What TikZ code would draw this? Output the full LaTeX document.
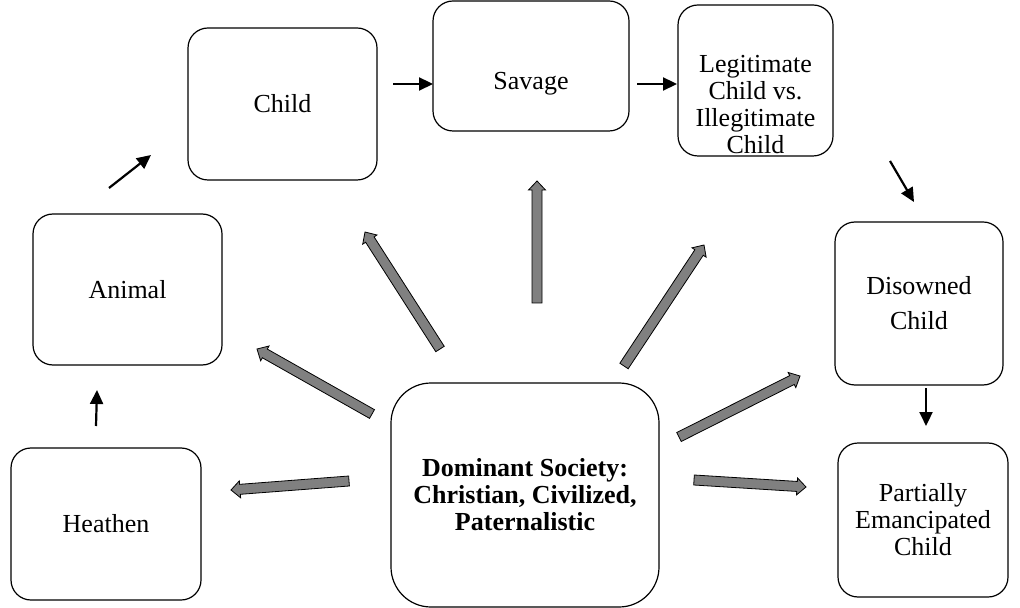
\documentclass[tikz,border=0pt]{standalone}
\usepackage{fontspec}
\setmainfont{Liberation Serif}
\usetikzlibrary{calc,arrows.meta}
\definecolor{blockgray}{HTML}{808080}
\tikzset{
  box/.style={draw=black, line width=0.6pt, rounded corners=10pt, align=center, inner sep=2pt,
    font=\fontsize{13}{13.5}\selectfont},
  bigBox/.style={box, rounded corners=20pt, font=\fontsize{13}{13.5}\selectfont\bfseries},
  boxLbl/.style={align=center, inner sep=0pt, font=\fontsize{13}{13.5}\selectfont},
  stepArrow/.style={draw=black, line width=1.1pt, -{Triangle[length=7pt,width=6.5pt]}},
  blockArrow/.style={fill=blockgray, draw=black, line width=0.4pt, line join=miter},
}
\newcommand{\grayArrow}[2]{%
  \coordinate (gaNeck) at ($(#2)!4.5pt!(#1)$);
  \filldraw[blockArrow] ($(#1)!2.5pt!90:(#2)$) -- ($(gaNeck)!2.5pt!-90:(#1)$)
    -- ($(gaNeck)!4.25pt!-90:(#1)$) -- (#2) -- ($(gaNeck)!4.25pt!90:(#1)$)
    -- ($(gaNeck)!2.5pt!90:(#1)$) -- ($(#1)!2.5pt!-90:(#2)$) -- cycle;
}

\begin{document}
\begin{tikzpicture}[x=0.5pt, y=-0.5pt]
  \useasboundingbox (0,0) rectangle (1020,608);

  % boxes round the centre
  \node[box, minimum width=95pt, minimum height=76pt]   (heathen)  at (106,524)   {Heathen};
  \node[box, minimum width=94.5pt, minimum height=75.5pt] (animal) at (127.5,289.5) {Animal};
  \node[box, minimum width=94.5pt, minimum height=76pt]  (child)    at (282.5,104) {Child};
  \node[box, minimum width=98pt, minimum height=65pt]    (savage)   at (531,66)    {};
  \node[boxLbl] (savageTxt) at (531,84) {Savage};
  \node[box, minimum width=77.5pt, minimum height=75.5pt] (legit)   at (755.5,80.5) {};
  \node[boxLbl] (legitTxt) at (755.5,105) {Legitimate\\Child vs.\\Illegitimate\\Child};
  \node[box, minimum width=84pt, minimum height=81.5pt]  (disowned) at (919,303.5) {Disowned\\[4pt]Child};
  \node[box, minimum width=85pt, minimum height=77pt]    (partial)  at (923,520)   {Partially\\Emancipated\\Child};
  \node[bigBox, minimum width=134pt, minimum height=112pt] (dominant) at (525,495)
    {Dominant Society:\\Christian, Civilized,\\Paternalistic};

  % free ends of the arrows
  \coordinate (h1) at (96,426);   \coordinate (h2) at (97,390);
  \coordinate (a1) at (109,188);  \coordinate (a2) at (151,155);
  \coordinate (c1) at (393,84);   \coordinate (c2) at (433,84);
  \coordinate (s1) at (637,84);   \coordinate (s2) at (677,84);
  \coordinate (l1) at (890,161);  \coordinate (l2) at (914,202);
  \coordinate (d1) at (926,388);  \coordinate (d2) at (926,426);

  \draw[stepArrow] (h1) -- (h2);
  \draw[stepArrow] (a1) -- (a2);
  \draw[stepArrow] (c1) -- (c2);
  \draw[stepArrow] (s1) -- (s2);
  \draw[stepArrow] (l1) -- (l2);
  \draw[stepArrow] (d1) -- (d2);

  % grey arrows out of the centre
  \coordinate (gHa) at (349,481); \coordinate (gHb) at (231,490);
  \coordinate (gAa) at (372,414); \coordinate (gAb) at (257,349);
  \coordinate (gCa) at (440,349); \coordinate (gCb) at (365,232);
  \coordinate (gSa) at (537,303); \coordinate (gSb) at (537,181);
  \coordinate (gLa) at (624,366); \coordinate (gLb) at (704,245);
  \coordinate (gDa) at (679,437); \coordinate (gDb) at (800,376);
  \coordinate (gPa) at (694,480); \coordinate (gPb) at (806,487);

  \grayArrow{gHa}{gHb}
  \grayArrow{gAa}{gAb}
  \grayArrow{gCa}{gCb}
  \grayArrow{gSa}{gSb}
  \grayArrow{gLa}{gLb}
  \grayArrow{gDa}{gDb}
  \grayArrow{gPa}{gPb}
\end{tikzpicture}
\end{document}
